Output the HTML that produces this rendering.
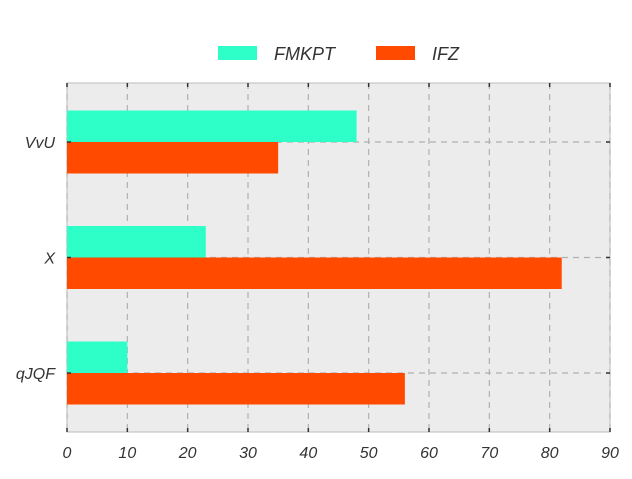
<!DOCTYPE html>
<html><head><meta charset="utf-8"><style>
body{margin:0;background:#fff}
svg text{font-family:"Liberation Sans",sans-serif;font-style:italic;fill:#333}
</style></head><body>
<svg width="632" height="474" id="c">
<rect x="67" y="83" width="543" height="349" fill="#ececec" stroke="#bbb"/>
<g id="grid"></g><g id="bars"></g><g id="axes"></g>
<g>
<rect x="218" y="46" width="39" height="14" fill="#2effc8"/>
<text x="274" y="60" font-size="18">FMKPT</text>
<rect x="376" y="46" width="39" height="14" fill="#ff4a00"/>
<text x="432" y="60" font-size="18">IFZ</text>
</g>
</svg>
<script>
const categories=["VvU","X","qJQF"];
const fmkpt=[48,23,10];
const ifz=[35,82,56];
const ticks=[0,10,20,30,40,50,60,70,80,90];
const ns="http://www.w3.org/2000/svg";
const L=67,R=610,T=83,B=432;
const x=v=>L+(R-L)*v/90;
const yc=i=>142+i*115.5;
const bh=31.5;
function mk(tag,attrs,parent){const e=document.createElementNS(ns,tag);for(const k in attrs)e.setAttribute(k,attrs[k]);document.getElementById(parent).appendChild(e);return e;}
ticks.forEach((t,i)=>{
 const g=mk('line',{x1:x(t),x2:x(t),y1:T,y2:B,stroke:'#b0b0b0','stroke-dasharray':'6,5','stroke-width':1.2},'grid');
 
 
 const a=mk('line',{x1:x(t),x2:x(t),y1:T,y2:T+4,stroke:'#333','stroke-width':1.5},'axes');
 
 
 const b=mk('line',{x1:x(t),x2:x(t),y1:B-4,y2:B,stroke:'#333','stroke-width':1.5},'axes');
 
 
 const l=mk('text',{x:x(t),y:458,'font-size':16,'text-anchor':'middle'},'axes');l.textContent=t;
 
 
});
categories.forEach((c,i)=>{
 const y=yc(i);
 const g=mk('line',{x1:L,x2:R,y1:y,y2:y,stroke:'#b0b0b0','stroke-dasharray':'6,5','stroke-width':1.2},'grid');
 
 
 const r1=mk('rect',{x:L,y:y-bh,width:x(fmkpt[i])-L,height:bh,fill:'#2effc8'},'bars');
 
 
 const r2=mk('rect',{x:L,y:y,width:x(ifz[i])-L,height:bh,fill:'#ff4a00'},'bars');
 
 
 const t1=mk('line',{x1:L,x2:L+4,y1:y,y2:y,stroke:'#333','stroke-width':1.5},'axes');
 
 
 const t2=mk('line',{x1:R-4,x2:R,y1:y,y2:y,stroke:'#333','stroke-width':1.5},'axes');
 
 
 const l=mk('text',{x:55,y:y+6,'font-size':16,'text-anchor':'end'},'axes');l.textContent=c;
 
 
});
</script>
</body></html>
